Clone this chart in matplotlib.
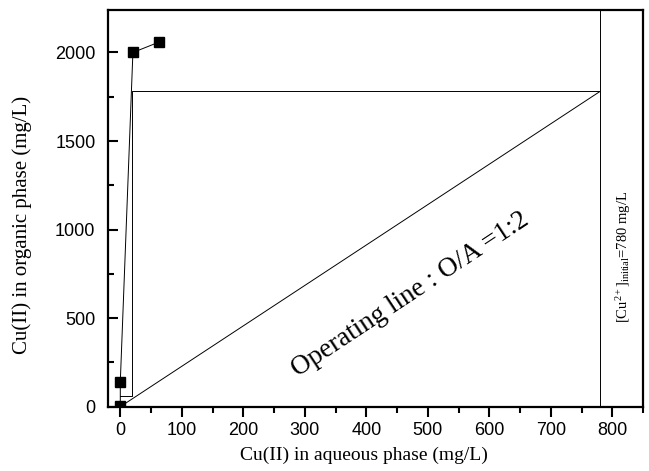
import numpy as np
import matplotlib.pyplot as plt
from matplotlib.ticker import MultipleLocator

plt.rcParams['mathtext.fontset'] = 'custom'
plt.rcParams['mathtext.rm'] = 'Liberation Serif'
plt.rcParams['mathtext.it'] = 'Liberation Serif:italic'

# equilibrium isotherm points (aqueous vs organic Cu(II), mg/L)
aq_eq = [0, 0, 20.5, 62.5]
org_eq = [5, 140, 2000, 2058]

# operating line O/A = 1:2
aq_op = [0, 780]
org_op = [0, 1780]

# McCabe-Thiele stage construction
aq_step = [0, 18.5, 18.5, 780]
org_step = [62, 62, 1780, 1780]

c_initial = 780

fig = plt.figure(figsize=(6.49, 4.71), dpi=100)
ax = fig.add_axes([0.1664, 0.1365, 0.8244, 0.8423])

ax.plot(aq_eq, org_eq, color='black', lw=0.7, marker='s', ms=7.5, mfc='black', mec='black')
ax.plot(aq_op, org_op, color='black', lw=0.7)
ax.plot(aq_step, org_step, color='black', lw=0.7)
ax.axvline(c_initial, color='black', lw=0.7)

ax.set_xlim(-20, 850)
ax.set_ylim(0, 2240)
ax.xaxis.set_major_locator(MultipleLocator(100))
ax.xaxis.set_minor_locator(MultipleLocator(50))
ax.yaxis.set_major_locator(MultipleLocator(500))
ax.yaxis.set_minor_locator(MultipleLocator(250))

ax.tick_params(axis='x', which='major', direction='out', length=7, width=1.5, labelsize=13, pad=4)
ax.tick_params(axis='x', which='minor', direction='out', length=4, width=1.5)
ax.tick_params(axis='y', which='major', direction='in', length=7, width=1.5, labelsize=13, pad=9)
ax.tick_params(axis='y', which='minor', direction='in', length=4, width=1.5)
for lab in ax.get_xticklabels() + ax.get_yticklabels():
    lab.set_family('Liberation Sans')
for sp in ax.spines.values():
    sp.set_linewidth(1.6)

ax.set_xlabel('Cu(II) in aqueous phase (mg/L)', family='Liberation Serif', fontsize=14)
ax.set_ylabel('Cu(II) in organic phase (mg/L)', family='Liberation Serif', fontsize=15)
ax.xaxis.set_label_coords(0.478, -0.1)
ax.yaxis.set_label_coords(-0.142, 0.457)

ax.text(472, 635, 'Operating line : O/A =1:2', family='Liberation Serif', fontsize=19.5,
        rotation=33.5, ha='center', va='center', rotation_mode='anchor')
ax.text(818, 846, r'[Cu$^{2+}$]$_{\mathrm{initial}}$=780 mg/L', family='Liberation Serif', fontsize=10.5,
        rotation=90, ha='center', va='center')

fig.savefig('out.png', dpi=100)
